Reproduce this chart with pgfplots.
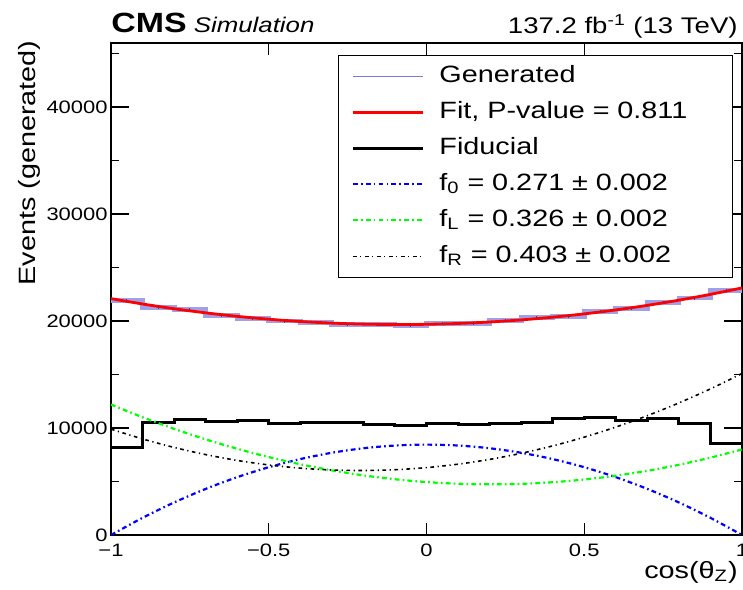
\documentclass[border=0pt]{standalone}
\usepackage{pgfplots}
\pgfplotsset{compat=1.18}
\usepackage{fontspec}
\setmainfont{Liberation Sans}[FakeStretch=1.22]
\definecolor{genblue}{RGB}{160,160,232}
\definecolor{genleg}{RGB}{120,120,225}
\definecolor{errblue}{RGB}{60,60,150}
\begin{document}
\begin{tikzpicture}
\begin{axis}[
  scale only axis, width=315.5pt, height=246pt,
  xmin=-1, xmax=1, ymin=0, ymax=46000,
  clip=true,
  scaled y ticks=false, scaled x ticks=false,
  xtick={-1,-0.5,0,0.5,1}, xticklabels={−1,−0.5,0,0.5,1},
  ytick={0,10000,20000,30000,40000}, yticklabels={0,10000,20000,30000,40000},
  minor ytick={5000,15000,25000,35000,45000},
  tick align=inside,
  major tick length=9pt, minor tick length=4pt,
  xtick style={/pgfplots/major tick length=6pt},
  axis line style={line width=0.9pt},
  tick style={line width=0.7pt, black},
  tick label style={font=\fontsize{9}{10}\selectfont},
  yticklabel style={inner xsep=1.5pt, inner ysep=0pt},
  xticklabel style={inner ysep=4.5pt, inner xsep=0pt},
  xlabel={cos(θ\textsubscript{Z})},
  ylabel={Events (generated)},
  label style={font=\fontsize{11.8}{13}\selectfont},
  xlabel style={at={(rel axis cs:1,0)}, anchor=base east, inner sep=0pt, yshift=-21.5pt, xshift=-2pt},
  ylabel style={at={(rel axis cs:-0.1204,1.006)}, anchor=base east, inner sep=0pt},
  legend cell align=left,
  legend image code/.code={\draw[#1] (0pt,0pt) -- (35pt,0pt);},
  legend style={at={(rel axis cs:0.9857,0.9756)}, anchor=north east,
    draw=black, line width=0.5pt, fill=white,
    font=\fontsize{11.8}{13}\selectfont,
    inner xsep=6.5pt, inner ysep=3.4pt, row sep=4pt, column sep=6.5pt,
    nodes={inner sep=1pt, text height=9pt, text depth=3pt, text width=139pt}},
]
% Generated histogram (bins of 0.1)
\addplot[const plot, color=genblue, line width=2.4pt, legend image post style={line width=0.7pt, color=genleg}] coordinates {
 (-1,21900)(-0.9,21300)(-0.8,21050)(-0.7,20550)(-0.6,20250)(-0.5,20000)(-0.4,19850)(-0.3,19700)(-0.2,19700)(-0.1,19600)
 (0,19750)(0.1,19800)(0.2,20050)(0.3,20300)(0.4,20450)(0.5,20900)(0.6,21200)(0.7,21750)(0.8,22150)(0.9,22850)(1,22850)};
\addlegendentry{Generated}
% error bars of generated
\addplot[forget plot, color=errblue, only marks, mark=*, mark size=0.01pt, error bars/.cd, y dir=both, y explicit,
  error mark=none, error bar style={line width=0.5pt, solid}] coordinates {
 (-0.95,21900)+-(0,150)(-0.85,21300)+-(0,150)(-0.75,21050)+-(0,150)(-0.65,20550)+-(0,150)(-0.55,20250)+-(0,150)
 (-0.45,20000)+-(0,150)(-0.35,19850)+-(0,150)(-0.25,19700)+-(0,150)(-0.15,19700)+-(0,150)(-0.05,19600)+-(0,150)
 (0.05,19750)+-(0,150)(0.15,19800)+-(0,150)(0.25,20050)+-(0,150)(0.35,20300)+-(0,150)(0.45,20450)+-(0,150)
 (0.55,20900)+-(0,150)(0.65,21200)+-(0,150)(0.75,21750)+-(0,150)(0.85,22150)+-(0,150)(0.95,22850)+-(0,150)};
% Fit
\addplot[smooth, color=red, line width=1.4pt] coordinates {
 (-1,22100)(-0.9,21599)(-0.8,21156)(-0.7,20771)(-0.6,20444)(-0.5,20175)(-0.4,19964)(-0.3,19811)(-0.2,19716)(-0.1,19679)
 (0,19700)(0.1,19779)(0.2,19916)(0.3,20111)(0.4,20364)(0.5,20675)(0.6,21044)(0.7,21471)(0.8,21956)(0.9,22499)(1,23100)};
\addlegendentry{Fit, P-value = 0.811}
% Fiducial
\addplot[const plot, color=black, line width=1.5pt] coordinates {
 (-1,8200)(-0.9,10550)(-0.8,10800)(-0.7,10600)(-0.6,10700)(-0.5,10400)(-0.4,10500)(-0.3,10500)(-0.2,10300)(-0.1,10250)
 (0,10450)(0.1,10350)(0.2,10450)(0.3,10550)(0.4,10850)(0.5,11000)(0.6,10700)(0.7,10850)(0.8,10450)(0.9,8550)(1,8550)};
\addlegendentry{Fiducial}
% f0
\addplot[smooth, color=blue, line width=1.1pt, dash pattern=on 2.4pt off 1.6pt on 0.8pt off 1.6pt] coordinates {
 (-1,0)(-0.9,1606)(-0.8,3042)(-0.7,4310)(-0.6,5408)(-0.5,6338)(-0.4,7098)(-0.3,7690)(-0.2,8112)(-0.1,8366)
 (0,8450)(0.1,8366)(0.2,8112)(0.3,7690)(0.4,7098)(0.5,6338)(0.6,5408)(0.7,4310)(0.8,3042)(0.9,1606)(1,0)};
\addlegendentry{f\textsubscript{0} = 0.271 ± 0.002}
% fL
\addplot[smooth, color=green, line width=1.1pt, dash pattern=on 2.4pt off 1.6pt on 0.8pt off 1.6pt] coordinates {
 (-1,12200)(-0.9,11012)(-0.8,9926)(-0.7,8944)(-0.6,8064)(-0.5,7288)(-0.4,6614)(-0.3,6044)(-0.2,5576)(-0.1,5212)
 (0,4950)(0.1,4792)(0.2,4736)(0.3,4784)(0.4,4934)(0.5,5188)(0.6,5544)(0.7,6004)(0.8,6566)(0.9,7232)(1,8000)};
\addlegendentry{f\textsubscript{L} = 0.326 ± 0.002}
% fR
\addplot[smooth, color=black, line width=0.8pt, dash pattern=on 1.8pt off 1.8pt on 0.6pt off 1.8pt] coordinates {
 (-1,9900)(-0.9,8982)(-0.8,8188)(-0.7,7518)(-0.6,6972)(-0.5,6550)(-0.4,6252)(-0.3,6078)(-0.2,6028)(-0.1,6102)
 (0,6300)(0.1,6622)(0.2,7068)(0.3,7638)(0.4,8332)(0.5,9150)(0.6,10092)(0.7,11158)(0.8,12348)(0.9,13662)(1,15100)};
\addlegendentry{f\textsubscript{R} = 0.403 ± 0.002}
\coordinate (SW) at (rel axis cs:0,0);
\coordinate (NE) at (rel axis cs:1,1);
\end{axis}
\node[anchor=base west, inner sep=0pt] at ([yshift=5.2pt]SW |- NE) {\fontsize{13.9}{15}\selectfont\bfseries CMS\hspace{3.5pt}\fontsize{10.6}{12}\selectfont\mdseries\itshape Simulation};
\node[anchor=base east, inner sep=0pt] at ([xshift=-2pt,yshift=5pt]NE) {\fontsize{11.3}{13}\selectfont 137.2 fb\textsuperscript{-1} (13 TeV)};
\pgfresetboundingbox
\path[use as bounding box] ([shift={(-55.5pt,-27pt)}]SW) rectangle ([shift={(0.5pt,21.5pt)}]NE);
\end{tikzpicture}
\end{document}
